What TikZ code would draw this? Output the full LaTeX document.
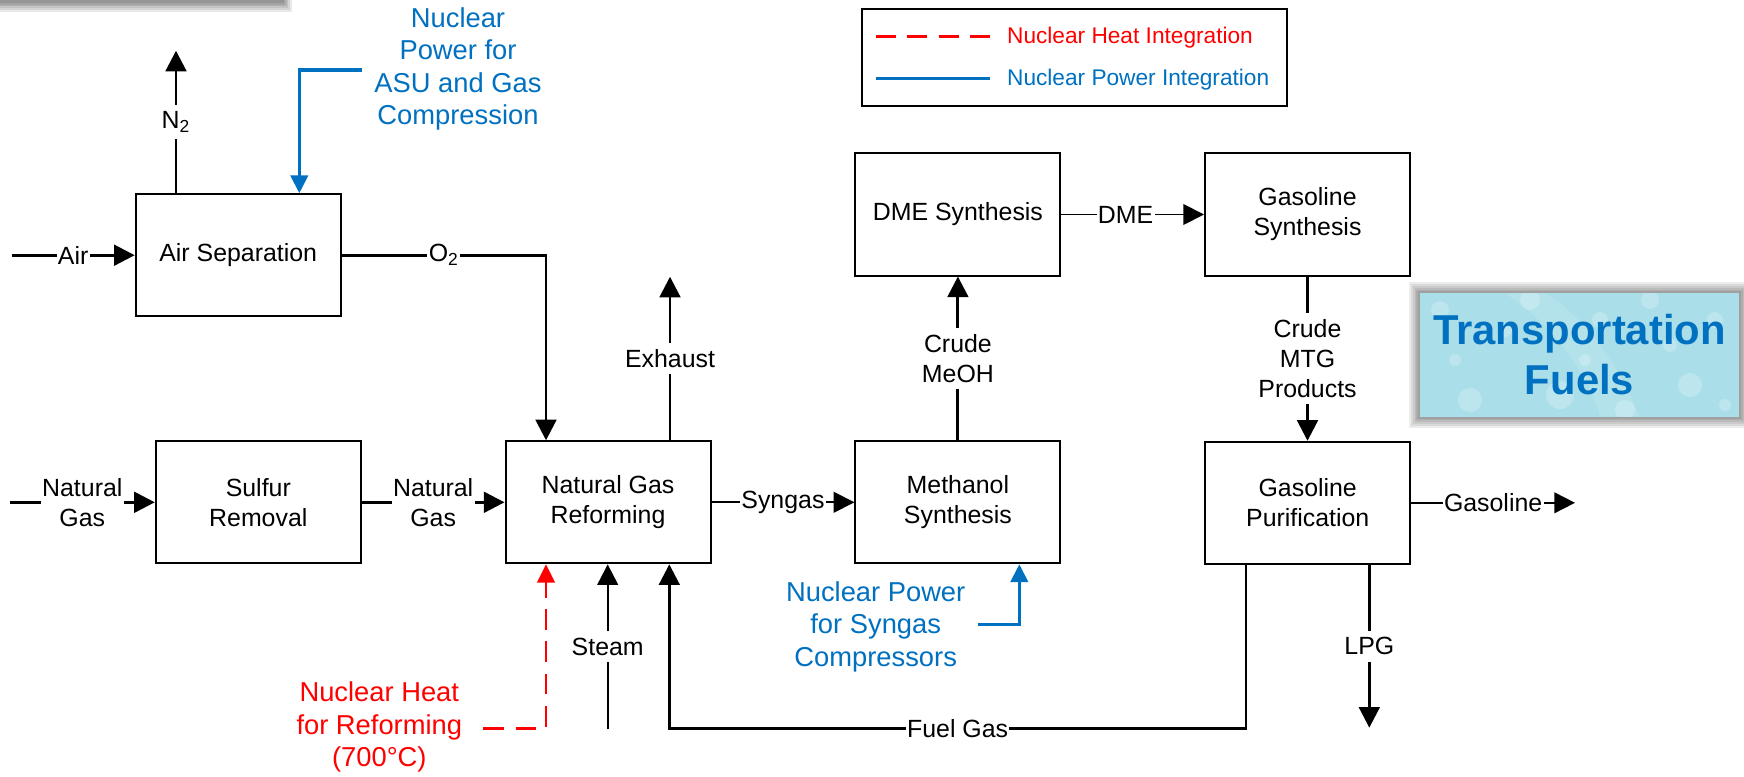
\documentclass[tikz,border=0pt]{standalone}
\usepackage{fontspec}
\setmainfont{Liberation Sans}
\usetikzlibrary{arrows.meta}
\definecolor{nblue}{RGB}{0,112,192}
\definecolor{nred}{RGB}{255,0,0}
\definecolor{tfill}{RGB}{170,222,233}
\begin{document}
\begin{tikzpicture}[x=0.45pt,y=-0.45pt,
 font=\fontsize{11.2pt}{13.5pt}\selectfont,
 proc/.style={draw=black,line width=0.9pt,minimum width=92.25pt,minimum height=54.9pt,inner sep=0pt,align=center},
 flow/.style={line width=1.3pt,-{Triangle[length=9.3pt,width=9.3pt]}},
 flowthin/.style={line width=0.8pt,-{Triangle[length=9.3pt,width=9.3pt]}},
 hlbl/.style={fill=white,inner xsep=0.6pt,inner ysep=0.5pt,align=center},
 vlbl/.style={fill=white,inner xsep=1pt,inner ysep=3pt,align=center},
 power/.style={draw=nblue,line width=1.4pt,-{Triangle[length=8pt,width=7.8pt]}},
 heat/.style={draw=nred,line width=1.3pt,dash pattern=on 9.3pt off 5.2pt,-{Triangle[length=8.2pt,width=7.8pt]}},
 bluetxt/.style={text=nblue,align=center,font=\fontsize{12.3pt}{14.6pt}\selectfont},
 redtxt/.style={text=nred,align=center,font=\fontsize{12.3pt}{14.6pt}\selectfont},
 legtxt/.style={anchor=west,inner sep=0pt,font=\fontsize{10.2pt}{12pt}\selectfont},
]
\useasboundingbox (0,0) rectangle (1744,777);

% top-left shadow bar
\foreach \k in {1,...,6}
  \fill[black,opacity=0.085] (-10,-10) rectangle (282+1.6*\k,1+1.8*\k);

% process boxes
\node[proc] (asu)  at (238.2,255.2) {Air Separation};
\node[proc] (sulf) at (258.3,502.3) {Sulfur\\Removal};
\node[proc] (ref)  at (608,502.3)   {Natural Gas\\Reforming};
\node[proc] (meoh) at (957.9,502.3) {Methanol\\Synthesis};
\node[proc] (dme)  at (957.9,214.5) {DME Synthesis};
\node[proc] (gsyn) at (1307.5,214.5) {Gasoline\\Synthesis};
\node[proc] (gpur) at (1307.7,502.8) {Gasoline\\Purification};

% free ends
\coordinate (airin) at (11.7,255.2);
\coordinate (n2out) at (176,50.7);
\coordinate (o2c)   at (546,255.2);
\coordinate (exh)   at (670,276.7);
\coordinate (ngin)  at (9.8,502.3);
\coordinate (gasout) at (1575,502.8);
\coordinate (lpg)   at (1369.3,727.7);
\coordinate (steam) at (607.7,729.3);
\coordinate (fg1)   at (1246,728.3);
\coordinate (fg2)   at (669.3,728.3);
\coordinate (h1)    at (483.3,728.3);
\coordinate (h2)    at (546,728.3);
\coordinate (p1)    at (361.7,70);
\coordinate (p2)    at (299.3,70);
\coordinate (q1)    at (977.7,624.3);
\coordinate (q2)    at (1019.3,624.3);

% black flows
\draw[flow] (airin) -- node[hlbl]{Air} (asu.west);
\draw[flow] (asu.north -| n2out) -- node[vlbl]{N\textsubscript{2}} (n2out);
\draw[flow] (asu.east) -- node[hlbl]{O\textsubscript{2}} (o2c) -- (o2c |- ref.north);
\draw[flow] (exh |- ref.north) -- node[vlbl]{Exhaust} (exh);
\draw[flow] (ngin) -- node[hlbl]{Natural\\Gas} (sulf.west);
\draw[flow] (sulf.east) -- node[hlbl]{Natural\\Gas} (ref.west);
\draw[flowthin] (ref.east) -- node[hlbl]{Syngas} (meoh.west);
\draw[flow] (meoh.north) -- node[vlbl]{Crude\\MeOH} (dme.south);
\draw[flowthin] (dme.east) -- node[hlbl,pos=0.45]{DME} (gsyn.west);
\draw[flow] (gsyn.south) -- node[vlbl]{Crude\\MTG\\Products} (gsyn.south |- gpur.north);
\draw[flowthin] (gpur.east) -- node[hlbl]{Gasoline} (gasout);
\draw[flow] (lpg |- gpur.south) -- node[vlbl]{LPG} (lpg);
\draw[flow,line width=1.05pt] (steam) -- node[vlbl]{Steam} (steam |- ref.south);
\draw[flow] (fg1 |- gpur.south) -- (fg1) -- node[hlbl]{Fuel Gas} (fg2) -- (fg2 |- ref.south);

% nuclear heat
\draw[heat] (h1) -- (h2) -- (h2 |- ref.south);
\node[redtxt] (heattxt) at (379.3,727) {Nuclear Heat\\for Reforming\\(700°C)};

% nuclear power
\draw[power] (p1) -- (p2) -- (p2 |- asu.north);
\node[bluetxt] (asutxt) at (458,69) {Nuclear\\Power for\\ASU and Gas\\Compression};
\draw[power] (q1) -- (q2) -- (q2 |- meoh.south);
\node[bluetxt] (syntxt) at (875.7,626.5) {Nuclear Power\\for Syngas\\Compressors};

% legend
\node[draw=black,line width=0.9pt,minimum width=191pt,minimum height=43.65pt,inner sep=0pt] (leg) at (1074.5,57.5) {};
\coordinate (l1a) at (876,36.7);
\coordinate (l1b) at (990,36.7);
\coordinate (l2a) at (876,78.3);
\coordinate (l2b) at (990,78.3);
\draw[nred,line width=1.2pt,dash pattern=on 9pt off 5.1pt] (l1a) -- (l1b);
\draw[nblue,line width=1.3pt] (l2a) -- (l2b);
\node[legtxt,text=nred] (lt1) at (1006.7,38) {Nuclear Heat Integration};
\node[legtxt,text=nblue] (lt2) at (1006.7,79.5) {Nuclear Power Integration};

% transportation fuels badge
\foreach \k in {1,...,6}
  \fill[black,opacity=0.075] (1420-1.8*\k,293.3-1.9*\k) rectangle (1739+1.8*\k,416.7+1.8*\k);
\node[fill=tfill,minimum width=143.55pt,minimum height=55.5pt,inner sep=0pt] (tfbg) at (1579.5,355) {};
\begin{scope}
  \clip (1420,293.3) rectangle (1739,416.7);
  \foreach \cx/\cy/\r in {1440/310/9,1470/400/12,1505/330/7,1530/300/10,1560/395/14,1600/320/8,1625/410/10,1650/300/9,1690/385/12,1715/320/8,1455/360/6,1585/360/6,1670/345/7,1725/405/6}
    \fill[white,opacity=0.22] (\cx,\cy) circle (\r);
  \fill[white,opacity=0.12] (1505,293.3) .. controls (1560,330) and (1590,380) .. (1600,416.7) -- (1640,416.7) .. controls (1620,370) and (1590,320) .. (1545,293.3) -- cycle;
\end{scope}
\node[text=nblue,align=center,font=\bfseries\fontsize{18.8pt}{22.5pt}\selectfont] (tf) at (1579.5,355) {Transportation\\Fuels};
\end{tikzpicture}
\end{document}
